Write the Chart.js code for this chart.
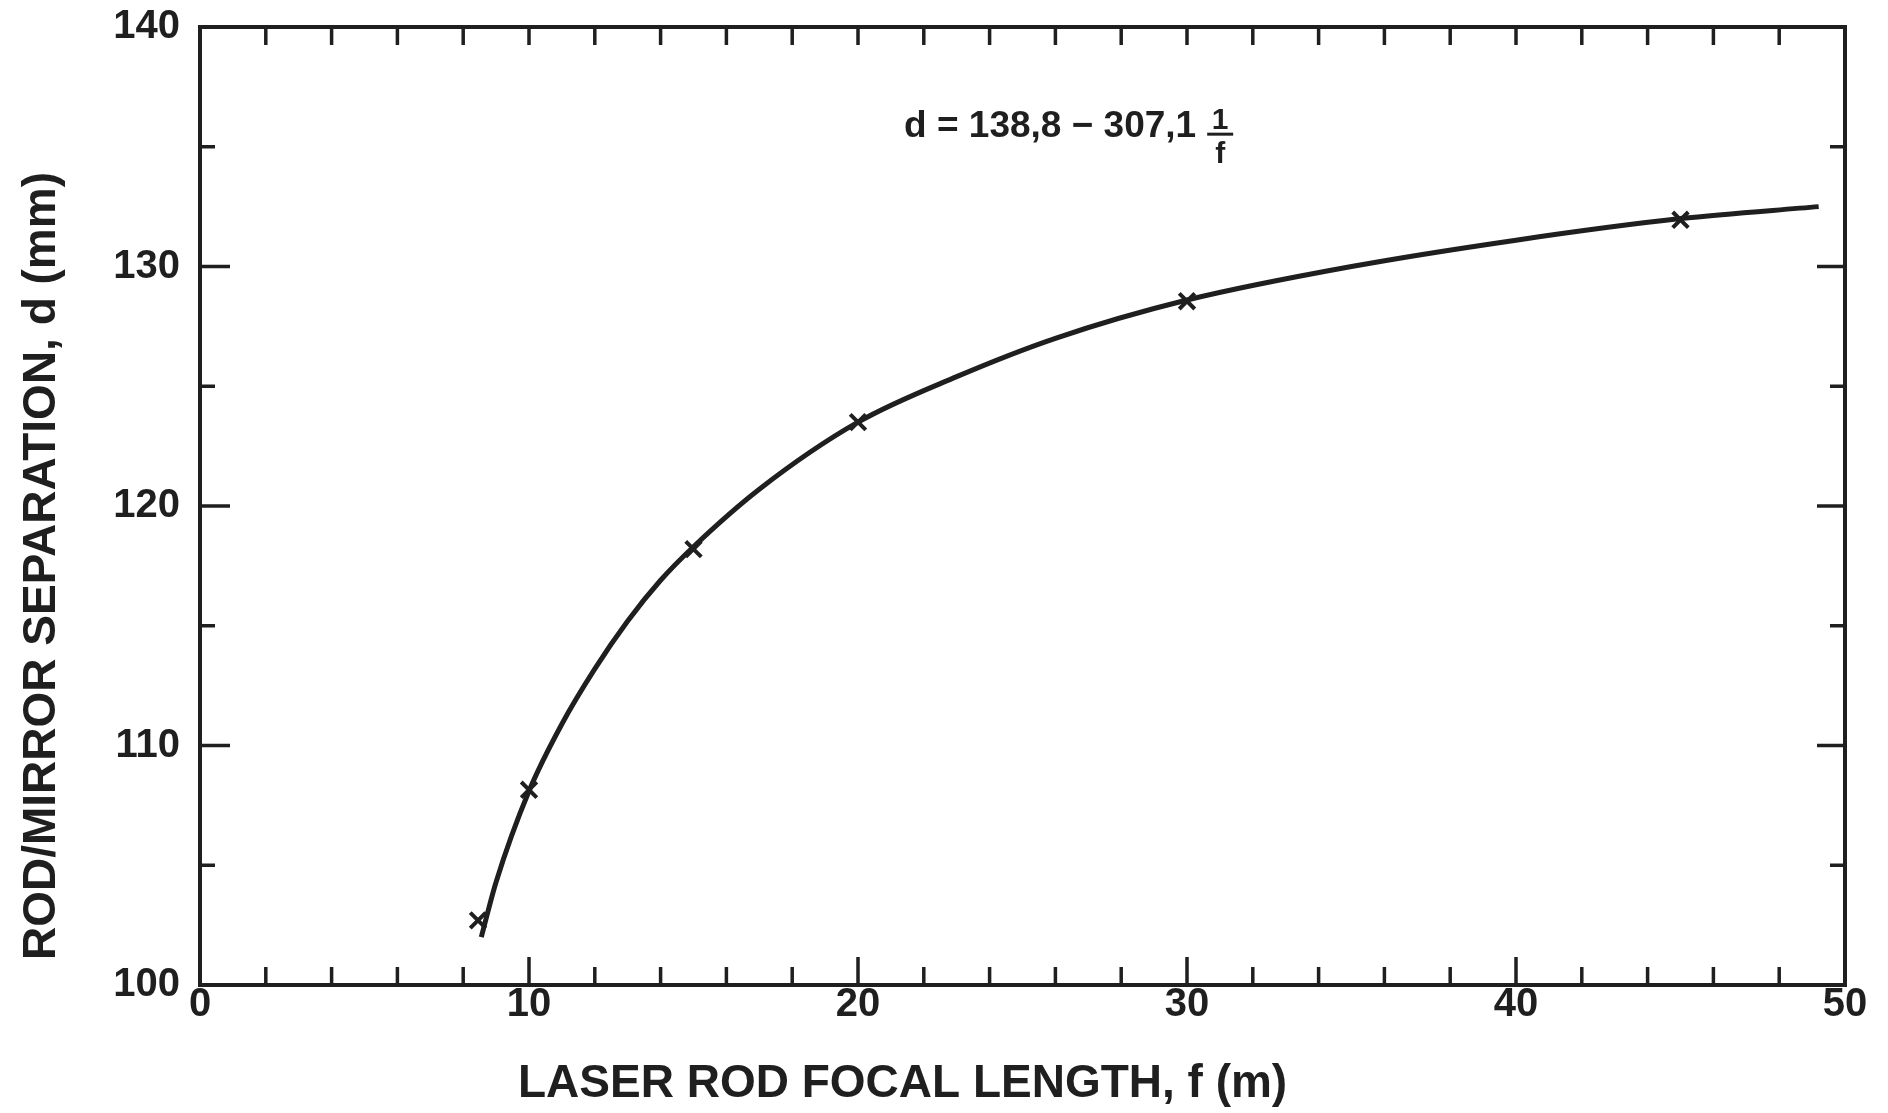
<!DOCTYPE html>
<html>
<head>
<meta charset="utf-8">
<script src="https://cdn.jsdelivr.net/npm/chart.js@4.4.1/dist/chart.umd.min.js"></script>
<style>
  html, body { margin: 0; padding: 0; background: #fff; }
  #wrap { width: 1888px; height: 1113px; }
</style>
</head>
<body>
<div id="wrap"><canvas id="chart" width="1888" height="1113"></canvas></div>
<script>
// fitted curve d(f)
var curveF = [8.55, 9, 10, 11, 12, 13, 14, 15, 17, 20, 23, 26, 30, 35, 40, 45, 49.2];
var curveD = [102.0, 104.3, 108.1, 110.9, 113.2, 115.2, 116.9, 118.3, 120.7, 123.5, 125.4, 127.0, 128.6, 130.0, 131.1, 132.0, 132.5];

// measured points (x marks)
var markF = [8.45, 10, 15, 20, 30, 45];
var markD = [102.7, 108.15, 118.2, 123.5, 128.55, 131.95];

// axis ticks
var xTicks = [0, 10, 20, 30, 40, 50];
var yTicks = [100, 110, 120, 130, 140];
var xMinor = 2;
var yMinor = 5;

var xTitle = 'LASER ROD FOCAL LENGTH, f (m)';
var yTitle = 'ROD/MIRROR SEPARATION, d (mm)';
var eqText = 'd = 138,8 \u2212 307,1';

var ink = '#1f1f1f';
var fam = "'Liberation Sans', Arial, sans-serif";

function pts(xs, ys) {
    return xs.map(function(v, i) { return { x: v, y: ys[i] }; });
}

// box, inward ticks, axis titles and the equation
var framePlugin = {
    id: 'frame',
    afterDatasetsDraw: function(chart) {
        var ctx = chart.ctx, a = chart.chartArea;
        var xs = chart.scales.x, ys = chart.scales.y;
        ctx.save();
        ctx.strokeStyle = ink;
        ctx.lineWidth = 4;
        ctx.strokeRect(a.left, a.top, a.right - a.left, a.bottom - a.top);

        ctx.lineWidth = 3.5;
        ctx.beginPath();
        for (var v = xs.min + xMinor; v < xs.max; v += xMinor) {
            var px = xs.getPixelForValue(v);
            var major = xTicks.indexOf(v) >= 0;
            ctx.moveTo(px, a.bottom);
            ctx.lineTo(px, a.bottom - (major ? 28 : 18));
            ctx.moveTo(px, a.top);
            ctx.lineTo(px, a.top + 18);
        }
        for (var w = ys.min + yMinor; w < ys.max; w += yMinor) {
            var py = ys.getPixelForValue(w);
            var maj = yTicks.indexOf(w) >= 0;
            ctx.moveTo(a.left, py);
            ctx.lineTo(a.left + (maj ? 30 : 15), py);
            ctx.moveTo(a.right, py);
            ctx.lineTo(a.right - (maj ? 28 : 15), py);
        }
        ctx.stroke();

        ctx.fillStyle = ink;

        // axis titles (the originals sit off-centre)
        ctx.font = 'bold 46px ' + fam;
        ctx.textBaseline = 'middle';
        ctx.textAlign = 'left';
        ctx.fillText(xTitle, 518, 1084);
        ctx.save();
        ctx.translate(42, 566);
        ctx.rotate(-Math.PI / 2);
        ctx.textAlign = 'center';
        ctx.fillText(yTitle, 0, 0);
        ctx.restore();

        // d = 138,8 - 307,1 1/f
        var ex = xs.getPixelForValue(21.4);
        var ey = ys.getPixelForValue(135.4);
        ctx.textBaseline = 'alphabetic';
        ctx.textAlign = 'left';
        ctx.font = 'bold 37px ' + fam;
        ctx.fillText(eqText, ex, ey);
        var cx = ex + ctx.measureText(eqText).width + 24;
        ctx.textAlign = 'center';
        ctx.font = 'bold 30px ' + fam;
        ctx.fillText('1', cx, ey - 8);
        ctx.fillText('f', cx, ey + 26);
        ctx.lineWidth = 3;
        ctx.beginPath();
        ctx.moveTo(cx - 13, ey - 3);
        ctx.lineTo(cx + 13, ey - 3);
        ctx.stroke();
        ctx.restore();
    }
};

new Chart(document.getElementById('chart').getContext('2d'), {
    type: 'scatter',
    data: {
        datasets: [{
            label: 'fit',
            data: pts(curveF, curveD),
            showLine: true,
            borderColor: ink,
            borderWidth: 5,
            pointRadius: 0,
            cubicInterpolationMode: 'monotone'
        }, {
            label: 'measured',
            data: pts(markF, markD),
            pointStyle: 'crossRot',
            pointRadius: 11,
            pointBorderWidth: 4,
            borderColor: ink,
            backgroundColor: ink
        }]
    },
    options: {
        responsive: false,
        animation: false,
        events: [],
        layout: { padding: { top: 27, right: 43, left: 0, bottom: 0 } },
        plugins: { legend: { display: false }, tooltip: { enabled: false } },
        scales: {
            x: {
                type: 'linear',
                min: 0,
                max: 50,
                grid: { display: false, drawTicks: false },
                border: { display: false },
                ticks: {
                    stepSize: 10,
                    color: ink,
                    padding: 0,
                    maxRotation: 0,
                    font: { family: fam, size: 40, weight: 'bold', lineHeight: 1 }
                },
                title: { display: false, text: xTitle },
                afterFit: function(s) {
                    s.height = 128;
                    s.paddingLeft = 0;
                    s.paddingRight = 0;
                }
            },
            y: {
                min: 100,
                max: 140,
                grid: { display: false, drawTicks: false },
                border: { display: false },
                ticks: {
                    stepSize: 10,
                    color: ink,
                    padding: 20,
                    font: { family: fam, size: 40, weight: 'bold', lineHeight: 1 }
                },
                title: { display: false, text: yTitle },
                afterFit: function(s) {
                    s.width = 200;
                    s.paddingTop = 0;
                    s.paddingBottom = 0;
                }
            }
        }
    },
    plugins: [framePlugin]
});
</script>
</body>
</html>
